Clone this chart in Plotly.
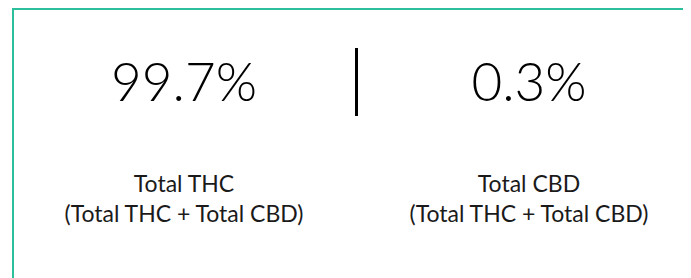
import plotly.graph_objects as go

# Data
names = ["Total THC", "Total CBD"]
values = [99.7, 0.3]
denominator = "(Total THC + Total CBD)"
positions = [0, 1]

W, H = 683, 270
BORDER = "#2dbe9c"

value_text = [f"{v}%" for v in values]
label_text = [f"{n}<br>{denominator}" for n in names]

fig = go.Figure()
fig.add_trace(go.Scatter(
    x=positions, y=[77.5] * len(values), mode="text", text=value_text,
    textposition="middle center",
    textfont=dict(family="Lato", size=53, color="#000000", weight=300),
    hoverinfo="skip", showlegend=False,
))
fig.add_trace(go.Scatter(
    x=positions, y=[191] * len(values), mode="text", text=label_text,
    textposition="middle center",
    textfont=dict(family="Lato", size=23, color="#1a1a1a"),
    hoverinfo="skip", showlegend=False,
))

# divider between the two values
fig.add_shape(type="line", xref="x", yref="y", x0=0.5, x1=0.5, y0=38, y1=106,
              line=dict(color="#000000", width=3))

# card border: top and left edges drawn as axis lines
fig.update_layout(
    width=W, height=H, margin=dict(l=6, r=0, t=2, b=0),
    paper_bgcolor="white", plot_bgcolor="white",
    xaxis=dict(range=[-0.49275, 1.46957], side="top", showline=True,
               linecolor=BORDER, linewidth=2, showgrid=False, zeroline=False,
               showticklabels=False, ticks="", fixedrange=True),
    yaxis=dict(range=[H - 2, 0], showline=True, linecolor=BORDER, linewidth=2,
               showgrid=False, zeroline=False, showticklabels=False, ticks="",
               fixedrange=True),
    showlegend=False,
)
fig.write_html("out.html", config={"displayModeBar": False})
